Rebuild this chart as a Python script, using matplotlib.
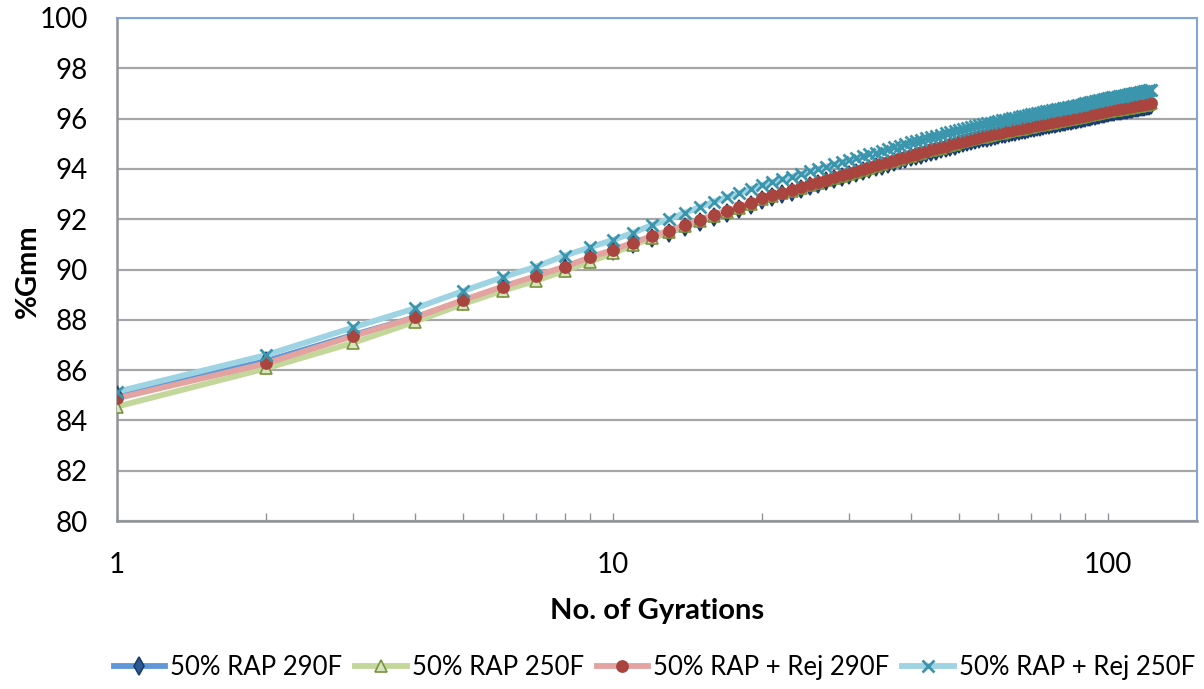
import matplotlib.pyplot as plt
from matplotlib.ticker import FixedLocator, NullFormatter

plt.rcParams['font.family'] = ['Lato', 'DejaVu Sans']

# gyration counts 1..122
gyrations = list(range(1, 123))

rap_290 = [
    85.02, 86.36, 87.40, 88.10, 88.76, 89.28, 89.70, 90.06, 90.42, 90.72,
    91.00, 91.26, 91.47, 91.70, 91.90, 92.10, 92.26, 92.40, 92.58, 92.76,
    92.88, 92.99, 93.10, 93.21, 93.31, 93.41, 93.50, 93.59, 93.67, 93.74,
    93.82, 93.90, 93.98, 94.06, 94.13, 94.20, 94.27, 94.34, 94.40, 94.46,
    94.51, 94.57, 94.63, 94.68, 94.73, 94.78, 94.83, 94.88, 94.93, 94.98,
    95.02, 95.06, 95.10, 95.14, 95.18, 95.21, 95.24, 95.27, 95.31, 95.34,
    95.37, 95.40, 95.43, 95.46, 95.48, 95.51, 95.53, 95.56, 95.58, 95.61,
    95.63, 95.66, 95.68, 95.70, 95.73, 95.75, 95.77, 95.79, 95.82, 95.84,
    95.86, 95.88, 95.90, 95.92, 95.94, 95.96, 95.98, 96.00, 96.02, 96.04,
    96.06, 96.08, 96.10, 96.12, 96.14, 96.16, 96.18, 96.20, 96.22, 96.24,
    96.25, 96.27, 96.28, 96.29, 96.31, 96.32, 96.33, 96.35, 96.36, 96.37,
    96.39, 96.40, 96.41, 96.43, 96.44, 96.45, 96.47, 96.48, 96.49, 96.51,
    96.52, 96.53,
]

rap_250 = [
    84.55, 86.07, 87.09, 87.93, 88.63, 89.16, 89.55, 89.95, 90.31, 90.64,
    90.97, 91.25, 91.48, 91.71, 91.92, 92.14, 92.30, 92.44, 92.62, 92.80,
    92.92, 93.03, 93.14, 93.25, 93.35, 93.45, 93.54, 93.63, 93.72, 93.80,
    93.88, 93.96, 94.04, 94.12, 94.19, 94.26, 94.33, 94.40, 94.46, 94.52,
    94.58, 94.64, 94.70, 94.75, 94.80, 94.85, 94.90, 94.95, 95.00, 95.05,
    95.09, 95.13, 95.17, 95.21, 95.25, 95.28, 95.31, 95.34, 95.38, 95.41,
    95.44, 95.47, 95.50, 95.53, 95.55, 95.58, 95.60, 95.63, 95.65, 95.68,
    95.70, 95.73, 95.75, 95.77, 95.80, 95.82, 95.84, 95.86, 95.89, 95.91,
    95.93, 95.95, 95.97, 95.99, 96.01, 96.03, 96.05, 96.07, 96.09, 96.11,
    96.13, 96.15, 96.17, 96.19, 96.21, 96.23, 96.25, 96.27, 96.29, 96.31,
    96.32, 96.34, 96.35, 96.36, 96.38, 96.39, 96.40, 96.42, 96.43, 96.44,
    96.46, 96.47, 96.48, 96.50, 96.51, 96.52, 96.54, 96.55, 96.56, 96.58,
    96.59, 96.60,
]

rej_290 = [
    84.88, 86.27, 87.36, 88.10, 88.79, 89.32, 89.74, 90.11, 90.48, 90.78,
    91.07, 91.33, 91.54, 91.77, 91.97, 92.17, 92.33, 92.47, 92.65, 92.83,
    92.95, 93.06, 93.17, 93.28, 93.38, 93.48, 93.57, 93.66, 93.75, 93.83,
    93.91, 93.99, 94.07, 94.15, 94.22, 94.29, 94.36, 94.43, 94.49, 94.55,
    94.61, 94.67, 94.73, 94.78, 94.83, 94.88, 94.93, 94.98, 95.03, 95.08,
    95.12, 95.16, 95.20, 95.24, 95.28, 95.31, 95.34, 95.37, 95.41, 95.44,
    95.47, 95.50, 95.53, 95.56, 95.58, 95.61, 95.63, 95.66, 95.68, 95.71,
    95.73, 95.76, 95.78, 95.80, 95.83, 95.85, 95.87, 95.89, 95.92, 95.94,
    95.96, 95.98, 96.00, 96.02, 96.04, 96.06, 96.08, 96.10, 96.12, 96.14,
    96.16, 96.18, 96.20, 96.22, 96.24, 96.26, 96.28, 96.30, 96.32, 96.34,
    96.35, 96.37, 96.38, 96.39, 96.41, 96.42, 96.43, 96.45, 96.46, 96.47,
    96.49, 96.50, 96.51, 96.53, 96.54, 96.55, 96.57, 96.58, 96.59, 96.61,
    96.62, 96.63,
]

rej_250 = [
    85.14, 86.60, 87.70, 88.46, 89.15, 89.69, 90.11, 90.55, 90.88, 91.17,
    91.46, 91.77, 92.00, 92.26, 92.48, 92.70, 92.88, 93.03, 93.20, 93.36,
    93.47, 93.58, 93.69, 93.80, 93.90, 94.00, 94.09, 94.18, 94.27, 94.35,
    94.42, 94.50, 94.58, 94.65, 94.72, 94.79, 94.86, 94.93, 94.99, 95.05,
    95.11, 95.16, 95.22, 95.27, 95.32, 95.36, 95.41, 95.46, 95.51, 95.55,
    95.59, 95.63, 95.67, 95.71, 95.75, 95.78, 95.81, 95.84, 95.87, 95.90,
    95.93, 95.96, 95.99, 96.02, 96.04, 96.07, 96.09, 96.12, 96.14, 96.17,
    96.19, 96.22, 96.24, 96.26, 96.29, 96.31, 96.33, 96.35, 96.38, 96.40,
    96.42, 96.44, 96.46, 96.48, 96.50, 96.52, 96.54, 96.56, 96.58, 96.60,
    96.62, 96.64, 96.66, 96.68, 96.70, 96.72, 96.74, 96.76, 96.78, 96.80,
    96.82, 96.84, 96.85, 96.87, 96.88, 96.90, 96.91, 96.93, 96.94, 96.96,
    96.97, 96.99, 97.00, 97.02, 97.03, 97.05, 97.06, 97.08, 97.09, 97.11,
    97.12, 97.14,
]

labels = ['50% RAP 290F', '50% RAP 250F', '50% RAP + Rej 290F', '50% RAP + Rej 250F']
series = [rap_290, rap_250, rej_290, rej_250]
# line colour, marker, marker face, marker edge, marker size
styles = [
    ('#5f97d9', 'd', '#2a5a96', '#1c3d6a', 9),
    ('#c4d79b', '^', '#d7e4bd', '#77933c', 9),
    ('#e3a3a1', 'o', '#a9443f', '#a9443f', 8),
    ('#9dd3e3', 'x', '#3a95ad', '#3a95ad', 9),
]

fig = plt.figure(figsize=(12.04, 6.89), dpi=100)
ax = fig.add_axes([0.0972, 0.2438, 0.8968, 0.7301])

handles = []
for vals, lab, (lc, mk, mf, me, ms) in zip(series, labels, styles):
    # lines for all series go under all markers, like Excel
    ax.plot(gyrations, vals, color=lc, lw=4.2, zorder=2, solid_capstyle='round')
for vals, lab, (lc, mk, mf, me, ms) in zip(series, labels, styles):
    ax.plot(gyrations, vals, ls='none', marker=mk, ms=ms, mfc=mf, mec=me,
            mew=2 if mk == 'x' else 1.2, zorder=3)
    h, = ax.plot([], [], color=lc, lw=4.2, marker=mk, ms=ms, mfc=mf, mec=me,
                 mew=2 if mk == 'x' else 1.2)
    handles.append(h)

ax.set_xscale('log')
ax.set_xlim(1, 151)
ax.set_ylim(80, 100)
ax.set_yticks(range(80, 101, 2))
ax.xaxis.set_major_locator(FixedLocator([1, 10, 100]))
ax.set_xticklabels(['1', '10', '100'])
ax.xaxis.set_minor_locator(FixedLocator([2, 3, 4, 5, 6, 7, 8, 9, 20, 30, 40, 50, 60, 70, 80, 90]))
ax.xaxis.set_minor_formatter(NullFormatter())

ax.grid(axis='y', color='#a6a6a6', lw=1.6, zorder=1)
ax.tick_params(axis='x', which='both', direction='in', length=6, width=1, color='#8e949a',
               pad=22, labelsize=20)
ax.tick_params(axis='y', length=0, pad=21, labelsize=20)

for s in ['left', 'bottom']:
    ax.spines[s].set_color('#8e949a')
    ax.spines[s].set_linewidth(1.8)
for s in ['top', 'right']:
    ax.spines[s].set_color('#7ea6d8')
    ax.spines[s].set_linewidth(1.5)

fig.text(657 / 1204, 1 - 611 / 689, 'No. of Gyrations', fontsize=21, fontweight='bold',
         ha='center', va='center')
fig.text(28 / 1204, 1 - 271 / 689, '%Gmm', fontsize=21, fontweight='bold',
         rotation=90, ha='center', va='center')

fig.legend(handles, labels, loc='center', bbox_to_anchor=(0.5436, 0.031), ncol=4,
           frameon=False, fontsize=18.5, handlelength=2.0, handletextpad=0.2,
           columnspacing=0.5, borderpad=0.2)

fig.savefig('out.png', dpi=100)
